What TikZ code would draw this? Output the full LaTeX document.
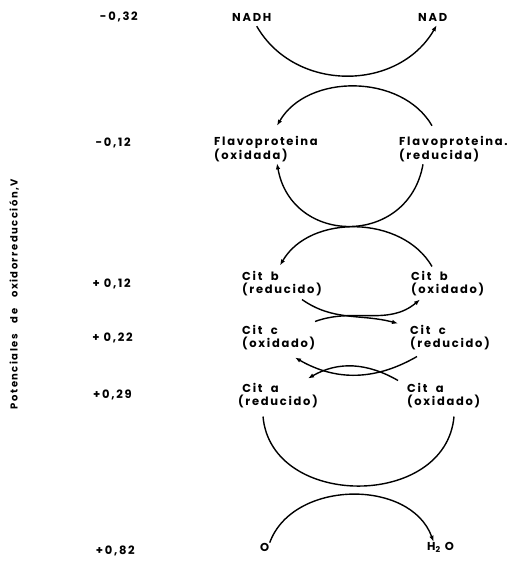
\documentclass[tikz,border=0pt]{standalone}
\usepackage{fontspec}
\newfontfamily\labfont[LetterSpace=15]{Poppins}
\usetikzlibrary{arrows.meta}
\tikzset{
    sp/.style={font=\labfont\bfseries\fontsize{11.5}{13}\selectfont,
        align=left, inner sep=0pt, anchor=west},
    volt/.style={font=\labfont\bfseries\fontsize{11.5}{13}\selectfont,
        inner sep=0pt, anchor=east},
    flow/.style={draw, line width=1.4pt, -{Latex[length=6pt,width=4.5pt]}},
    arc/.style={draw, line width=1.4pt},
}

\begin{document}
\begin{tikzpicture}[x=1pt,y=1pt]
\useasboundingbox (0,0) rectangle (511,-562);
% potential scale
\node[volt] (v1) at (138,-17) {-0,32};
\node[volt] (v2) at (131,-143) {-0,12};
\node[volt] (v3) at (131,-284) {+ 0,12};
\node[volt] (v4) at (133,-338) {+ 0,22};
\node[volt] (v5) at (132,-395) {+0,29};
\node[volt] (v6) at (135,-551) {+0,82};
\node[font=\labfont\bfseries\fontsize{10}{11}\selectfont, rotate=90, inner sep=0pt]
    (axis) at (14,-294) {Potenciales~~~de~~~oxidorreducción,V};
% carriers
\node[sp] (nadh) at (232,-17) {NADH};
\node[sp] (nad) at (418,-17) {NAD};
\node[sp] (fox) at (214,-149) {Flavoproteina\\(oxidada)};
\node[sp] (fred) at (399,-149) {Flavoproteina.\\(reducida)};
\node[sp] (cbr) at (242,-284) {Cit~~b\\(reducido)};
\node[sp] (cbo) at (411,-284) {Cit~~b\\(oxidado)};
\node[sp] (cco) at (242,-338) {Cit~~c\\(oxidado)};
\node[sp] (ccr) at (410,-338) {Cit~~c\\(reducido)};
\node[sp] (car) at (238,-396) {~Cit~~a\\(reducido)};
\node[sp] (cao) at (407,-396) {Cit~~a\\(oxidado)};
\node[sp] (o) at (260,-547) {O};
\node[sp] (h2o) at (427,-547) {H\textsubscript{2} O};
% electron transfer
\path[flow] ([shift={(5,-5)}]nadh.south) to[out=-60,in=-120,looseness=1.09]
    ([shift={(4,-4)}]nad.south);
\path[flow, {Latex[length=6pt,width=4.5pt]}-] ([shift={(63,10)}]fox.north west)
    to[out=60,in=120] ([shift={(33,10)}]fred.north west);
\path[flow] ([shift={(24,-2)}]fred.south west) to[out=-100,in=-80,looseness=1.47]
    ([shift={(63,-1)}]fox.south west);
\path[flow] ([shift={(21,5)}]cbo.north west) to[out=120,in=60]
    ([shift={(38,6)}]cbr.north west);
\path[flow] ([shift={(60,-3)}]cbr.south west) to[out=-35,in=165]
    ([shift={(-12,2)}]ccr.north west);
\path[flow] ([shift={(73,4)}]cco.north west) to[out=20,in=-140]
    ([shift={(9,-3)}]cbo.south west);
\path[flow] ([shift={(7,-6)}]ccr.south west) to[out=-150,in=-30]
    ([shift={(53,-7)}]cco.south west);
\path[flow] ([shift={(-9,3)}]cao.north west) to[out=150,in=30]
    ([shift={(70,5)}]car.north west);
\path[arc] ([shift={(25,-8)}]car.south west) to[out=-85,in=-95,looseness=1.25]
    ([shift={(47,-8)}]cao.south west);
\path[flow] ([xshift=5]o.north) to[out=70,in=110,looseness=1.05]
    ([xshift=-7]h2o.north);
\end{tikzpicture}
\end{document}
